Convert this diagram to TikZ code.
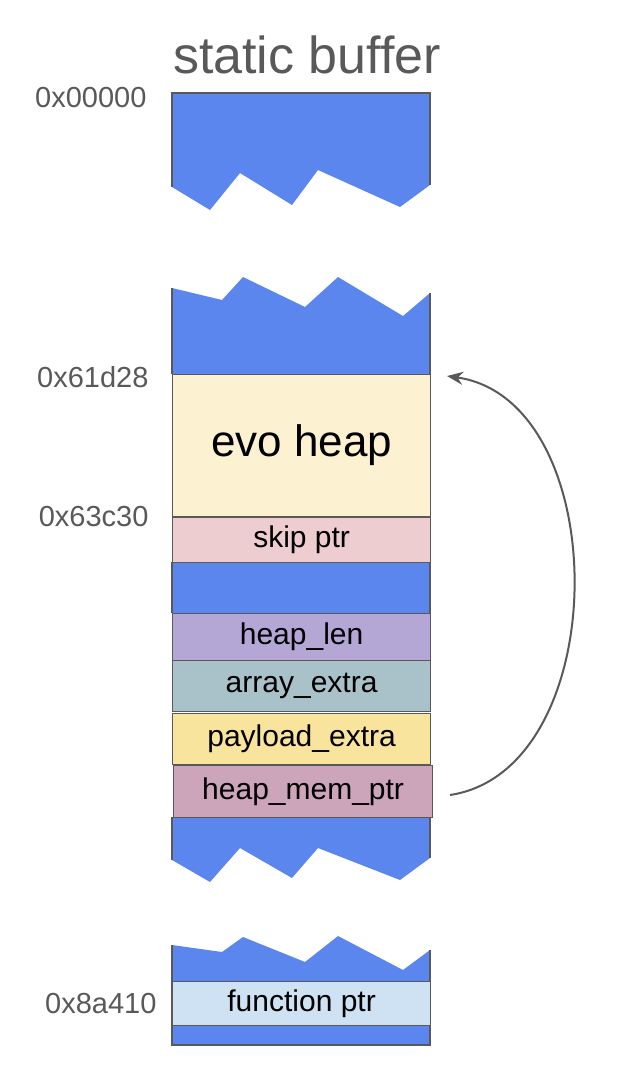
\documentclass[tikz,border=0pt]{standalone}
\usepackage{fontspec}
\setmainfont{Liberation Sans}
\usetikzlibrary{positioning,arrows.meta}
\definecolor{myblue}{HTML}{5B86EE}
\definecolor{myheap}{HTML}{FCF2D2}
\definecolor{mypink}{HTML}{EECDD0}
\definecolor{mylilac}{HTML}{B4A7D6}
\definecolor{myteal}{HTML}{A9C2C9}
\definecolor{myyellow}{HTML}{F9E49D}
\definecolor{mymauve}{HTML}{CDA5BB}
\definecolor{mysky}{HTML}{CFE2F3}
\definecolor{mygrey}{HTML}{595959}
\begin{document}
\begin{tikzpicture}[x=1pt,y=-1pt,
  blk/.style={fill=myblue,draw=mygrey,line width=1.2pt},
  cell/.style={draw=mygrey,line width=1.2pt,minimum width=258pt,inner sep=0pt,
    anchor=north west,font=\fontsize{30}{30}\selectfont},
  addr/.style={anchor=east,text=mygrey,font=\fontsize{29}{29}\selectfont}]
  \useasboundingbox (0,0) rectangle (620,1085);

  \node[text=mygrey,font=\fontsize{52}{52}\selectfont] (title) at (307,55) {static buffer};

  % jagged blue blocks
  \fill[myblue] (172,93) -- (430,93) -- (430,185) -- (400,207) -- (318,170) -- (292,205)
    -- (240,173) -- (210,210) -- (172,187) -- cycle;
  \draw[draw=mygrey,line width=1.2pt] (172,187) -- (172,93) -- (430,93) -- (430,185);
  \fill[myblue] (172,288) -- (222,300) -- (243,277) -- (305,307) -- (338,277) -- (403,316)
    -- (430,293) -- (430,374) -- (172,374) -- cycle;
  \draw[draw=mygrey,line width=1.2pt] (172,288) -- (172,374) (430,293) -- (430,374);
  \fill[myblue] (172,562) rectangle (430,613);
  \draw[draw=mygrey,line width=1.2pt] (172,562) -- (172,613) (430,562) -- (430,613);
  \fill[myblue] (172,817) -- (430,817) -- (430,858) -- (400,880) -- (318,848) -- (292,878)
    -- (240,848) -- (210,882) -- (172,860) -- cycle;
  \draw[draw=mygrey,line width=1.2pt] (172,817) -- (172,860) (430,817) -- (430,858);
  \fill[myblue] (172,945) -- (222,952) -- (243,937) -- (305,962) -- (338,936) -- (403,970)
    -- (430,950) -- (430,1045) -- (172,1045) -- cycle;
  \draw[draw=mygrey,line width=1.2pt] (172,945) -- (172,1045) -- (430,1045) -- (430,950);

  % cells
  \node[cell,fill=myheap,minimum height=142pt,font=\fontsize{44}{44}\selectfont] (heap) at (172,374) {evo heap};
  \node[cell,fill=mypink,minimum height=45pt] (skip) at (172,517) {skip ptr};
  \node[cell,fill=mylilac,minimum height=47pt] (len) at (172,613) {heap\_len};
  \node[cell,fill=myteal,minimum height=51pt] (extra) at (172,660) {array\_extra};
  \node[cell,fill=myyellow,minimum height=51pt] (payload) at (172,713) {payload\_extra};
  \node[cell,fill=mymauve,minimum height=52pt,minimum width=259pt] (memptr) at (173,765) {heap\_mem\_ptr};
  \node[cell,fill=mysky,minimum height=44pt] (func) at (172,981) {function ptr};

  % addresses
  \node[addr] (a0) at (150,98) {0x00000};
  \node[addr] (a1) at (152,377) {0x61d28};
  \node[addr] (a2) at (152,517) {0x63c30};
  \node[addr] (a3) at (160,1004) {0x8a410};

  \coordinate (src) at (450,795);
  \coordinate (dst) at (447,376);
  \draw[mygrey,line width=2pt,-{Stealth[length=16pt,width=13pt]}]
    (src) .. controls (615,770) and (615,400) .. (dst);
\end{tikzpicture}
\end{document}
